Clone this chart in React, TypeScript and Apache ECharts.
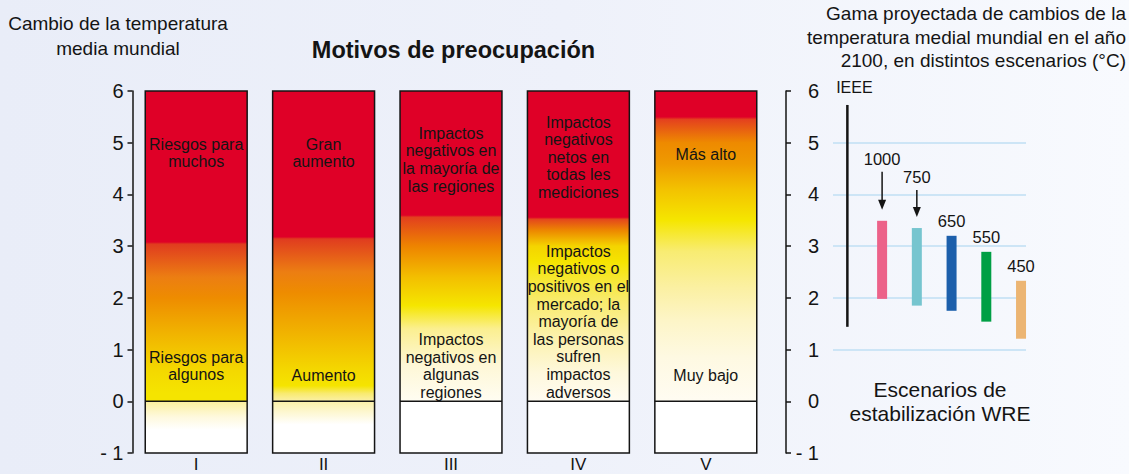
import React, { useEffect, useRef } from 'react';
import * as echarts from 'echarts';

const FONT = '"Liberation Sans", Arial, sans-serif';
const INK = '#141414';

// Left panel: reasons for concern
const categories = ['I', 'II', 'III', 'IV', 'V'];
const axisMin = -1;
const axisMax = 6;
const RED = '#df0027';

// colour stops per column: [temperature value, colour], top to bottom
const stopsI: [number, string][] = [
  [6, RED], [3.08, RED], [3.04, '#e03c1f'], [2.4, '#ec7e12'], [2.0, '#ee8c00'], [1.3, '#f1b400'],
  [0.6, '#f4d800'], [0.15, '#f5e400'], [0, '#f5e400'], [0, '#fbef9c'], [-0.3, '#fef9dd'], [-0.55, '#ffffff'], [-1, '#ffffff'],
];
const stopsII: [number, string][] = [
  [6, RED], [3.18, RED], [3.14, '#e03c1f'], [2.5, '#ec7e12'], [2.1, '#ee8c00'], [1.3, '#f1b400'],
  [0.6, '#f4d800'], [0.3, '#f5e400'], [0.15, '#f8ea70'], [0, '#fbf0a8'], [-0.45, '#ffffff'], [-1, '#ffffff'],
];
const stopsIII: [number, string][] = [
  [6, RED], [3.6, RED], [3.56, '#e2401e'], [3.0, '#ee8400'], [2.4, '#f3bf00'], [1.85, '#f5e600'],
  [1.4, '#fbef90'], [0.7, '#fef7d6'], [0, '#fffdf2'], [0, '#ffffff'], [-1, '#ffffff'],
];
const stopsIV: [number, string][] = [
  [6, RED], [3.56, RED], [3.52, '#e4471c'], [3.3, '#ed8800'], [3.0, '#f4d400'], [2.7, '#f5e400'],
  [2.0, '#f8ea66'], [1.3, '#fcf1a8'], [0.55, '#fef8dc'], [0, '#fffcf2'], [0, '#ffffff'], [-1, '#ffffff'],
];
const stopsV: [number, string][] = [
  [6, RED], [5.5, RED], [5.45, '#e4411e'], [5.0, '#ee8a00'], [4.6, '#ef9a00'], [4.1, '#f3c200'],
  [3.5, '#f5e600'], [2.9, '#f8ec72'], [2.2, '#fbf0a2'], [1.55, '#fdf5c8'], [0.85, '#fef9e2'], [0, '#fffcf2'],
  [0, '#ffffff'], [-1, '#ffffff'],
];
const columnStops = [stopsI, stopsII, stopsIII, stopsIV, stopsV];

// annotations inside the columns
const noteColumn = [0, 0, 1, 1, 2, 2, 3, 3, 4, 4];
const noteValue = [4.8, 0.68, 4.8, 0.5, 4.67, 0.68, 4.72, 1.54, 4.77, 0.5];
const noteText = [
  'Riesgos para\nmuchos',
  'Riesgos para\nalgunos',
  'Gran\naumento',
  'Aumento',
  'Impactos\nnegativos en\nla mayoría de\nlas regiones',
  'Impactos\nnegativos en\nalgunas\nregiones',
  'Impactos\nnegativos\nnetos en\ntodas les\nmediciones',
  'Impactos\nnegativos o\npositivos en el\nmercado; la\nmayoría de\nlas personas\nsufren\nimpactos\nadversos',
  'Más alto',
  'Muy bajo',
];

// Right panel: projected ranges of warming by 2100
const scenarioNames = ['IEEE', '1000', '750', '650', '550', '450'];
const scenarioLow = [1.44, 1.98, 1.85, 1.75, 1.54, 1.21];
const scenarioHigh = [5.73, 3.49, 3.35, 3.2, 2.89, 2.33];
const scenarioArrow = [false, true, true, false, false, false];
// styling only: colours and arrow lengths (px) for the scenario marks
const scenarioColors = [INK, '#ec6289', '#76c5cf', '#1c5fab', '#009f45', '#ecb573'];
const arrowLengthPx = [0, 38, 27, 0, 0, 0];
const gridLevelMin = 1;
const gridLevelMax = 5;

const fmt = (v: number) => (v < 0 ? '- ' + Math.abs(v) : String(v));

export default function App() {
  const ref = useRef<HTMLDivElement>(null);

  useEffect(() => {
    if (!ref.current) return;
    const chart = echarts.init(ref.current, null, { renderer: 'svg' });

    const option: any = {
      animation: false,
      backgroundColor: 'transparent',
      textStyle: { fontFamily: FONT },
      grid: [
        { left: 132.5, top: 91, width: 637, height: 362, outerBoundsMode: 'none', containLabel: false },
        { left: 830, top: 91, width: 208.4, height: 362, outerBoundsMode: 'none', containLabel: false },
        { left: 833, top: 142.7, width: 193, height: 206.9, outerBoundsMode: 'none', containLabel: false },
      ],
      xAxis: [
        {
          type: 'category',
          gridIndex: 0,
          data: categories,
          axisLine: { show: false },
          axisTick: { show: false },
          axisLabel: { fontSize: 17, lineHeight: 17, color: INK, margin: 3, fontFamily: FONT },
        },
        { type: 'category', gridIndex: 1, data: scenarioNames, show: false },
        { type: 'value', gridIndex: 2, min: 0, max: 1, show: false },
      ],
      yAxis: [
        {
          type: 'value',
          gridIndex: 0,
          position: 'left',
          min: axisMin,
          max: axisMax,
          interval: 1,
          splitLine: { show: false },
          axisLine: { show: true, lineStyle: { color: INK, width: 1.5 } },
          axisTick: { show: true, length: 5, lineStyle: { color: INK, width: 1.5 } },
          axisLabel: { fontSize: 20, color: INK, margin: 9, formatter: fmt, fontFamily: FONT },
        },
        {
          type: 'value',
          gridIndex: 0,
          position: 'right',
          offset: 16.5,
          min: axisMin,
          max: axisMax,
          interval: 1,
          splitLine: { show: false },
          axisLine: { show: true, lineStyle: { color: INK, width: 1.5 } },
          axisTick: { show: true, length: 5, lineStyle: { color: INK, width: 1.5 } },
          axisLabel: { fontSize: 20, color: INK, margin: 33, align: 'right', formatter: fmt, fontFamily: FONT },
        },
        { type: 'value', gridIndex: 1, min: axisMin, max: axisMax, show: false },
        {
          type: 'value',
          gridIndex: 2,
          min: gridLevelMin,
          max: gridLevelMax,
          interval: 1,
          axisLine: { show: false },
          axisTick: { show: false },
          axisLabel: { show: false },
          splitLine: { show: true, lineStyle: { color: '#cde5f6', width: 2 } },
        },
      ],
      graphic: [
        {
          type: 'text',
          x: 118,
          y: 36,
          style: {
            text: 'Cambio de la temperatura\nmedia mundial',
            align: 'center',
            verticalAlign: 'middle',
            fontSize: 19,
            lineHeight: 25,
            fontFamily: FONT,
            fill: INK,
          },
        },
        {
          type: 'text',
          x: 453.5,
          y: 50,
          style: {
            text: 'Motivos de preocupación',
            align: 'center',
            verticalAlign: 'middle',
            fontSize: 23.5,
            fontWeight: 'bold',
            fontFamily: FONT,
            fill: INK,
          },
        },
        {
          type: 'text',
          x: 1126,
          y: 37,
          style: {
            text: 'Gama proyectada de cambios de la\ntemperatura medial mundial en el año\n2100, en distintos escenarios (°C)',
            align: 'right',
            verticalAlign: 'middle',
            fontSize: 19,
            lineHeight: 23.5,
            fontFamily: FONT,
            fill: INK,
          },
        },
        {
          type: 'text',
          x: 940,
          y: 401,
          style: {
            text: 'Escenarios de\nestabilización WRE',
            align: 'center',
            verticalAlign: 'middle',
            fontSize: 21,
            lineHeight: 24,
            fontFamily: FONT,
            fill: INK,
          },
        },
      ],
      series: [
        {
          type: 'custom',
          xAxisIndex: 0,
          yAxisIndex: 0,
          data: categories.map((_, i) => [i, axisMin, axisMax]),
          encode: { x: 0, y: [1, 2] },
          renderItem: (params: any, api: any) => {
            const i = api.value(0);
            const top = api.coord([i, api.value(2)]);
            const bot = api.coord([i, api.value(1)]);
            const zero = api.coord([i, 0]);
            const bw = api.size([1, 0])[0] * 0.8;
            const span = api.value(2) - api.value(1);
            const stops = columnStops[i].map(([v, c]) => ({ offset: (api.value(2) - v) / span, color: c }));
            const x0 = top[0] - bw / 2;
            return {
              type: 'group',
              children: [
                {
                  type: 'rect',
                  shape: { x: x0, y: top[1], width: bw, height: bot[1] - top[1] },
                  style: { fill: new echarts.graphic.LinearGradient(0, 0, 0, 1, stops), stroke: INK, lineWidth: 1.5 },
                },
                {
                  type: 'line',
                  shape: { x1: x0, y1: zero[1], x2: x0 + bw, y2: zero[1] },
                  style: { stroke: INK, lineWidth: 1.5 },
                },
              ],
            };
          },
        },
        {
          type: 'custom',
          xAxisIndex: 0,
          yAxisIndex: 0,
          data: noteColumn.map((c, i) => [c, noteValue[i], i]),
          encode: { x: 0, y: 1 },
          renderItem: (params: any, api: any) => {
            const p = api.coord([api.value(0), api.value(1)]);
            return {
              type: 'text',
              x: p[0],
              y: p[1],
              style: {
                text: noteText[api.value(2)],
                align: 'center',
                verticalAlign: 'middle',
                fontSize: 16,
                lineHeight: 17.6,
                fontFamily: FONT,
                fill: INK,
              },
            };
          },
        },
        {
          type: 'custom',
          xAxisIndex: 1,
          yAxisIndex: 2,
          data: scenarioNames.map((_, i) => [i, scenarioLow[i], scenarioHigh[i]]),
          encode: { x: 0, y: [1, 2] },
          renderItem: (params: any, api: any) => {
            const i = api.value(0);
            const hi = api.coord([i, api.value(2)]);
            const lo = api.coord([i, api.value(1)]);
            const x = hi[0];
            const children: any[] = [];
            const label = (y: number, dx: number, size: number) => ({
              type: 'text',
              x: x + dx,
              y,
              style: {
                text: scenarioNames[i],
                align: 'center',
                verticalAlign: 'middle',
                fontSize: size,
                fontFamily: FONT,
                fill: INK,
              },
            });
            if (i === 0) {
              children.push({
                type: 'line',
                shape: { x1: x, y1: hi[1], x2: x, y2: lo[1] },
                style: { stroke: scenarioColors[i], lineWidth: 2.5 },
              });
              children.push(label(hi[1] - 17, 7, 16));
            } else {
              children.push({
                type: 'rect',
                shape: { x: x - 5, y: hi[1], width: 10, height: lo[1] - hi[1] },
                style: { fill: scenarioColors[i] },
              });
              if (scenarioArrow[i]) {
                const tip = hi[1] - 11;
                const start = tip - arrowLengthPx[i];
                children.push({
                  type: 'line',
                  shape: { x1: x, y1: start, x2: x, y2: tip - 6 },
                  style: { stroke: INK, lineWidth: 1.5 },
                });
                children.push({
                  type: 'polygon',
                  shape: { points: [[x - 4, tip - 10], [x + 4, tip - 10], [x, tip]] },
                  style: { fill: INK },
                });
                children.push(label(start - 13, 0, 16.5));
              } else {
                children.push(label(hi[1] - 15, 0, 16.5));
              }
            }
            return { type: 'group', children };
          },
        },
      ],
    };

    chart.setOption(option);
    return () => chart.dispose();
  }, []);

  return (
    <div
      ref={ref}
      style={{
        position: 'fixed',
        left: 0,
        top: 0,
        width: 1129,
        height: 474,
        background: 'linear-gradient(to right, #e9edf8 0%, #eef1fa 50%, #f8fafe 100%)',
      }}
    />
  );
}
